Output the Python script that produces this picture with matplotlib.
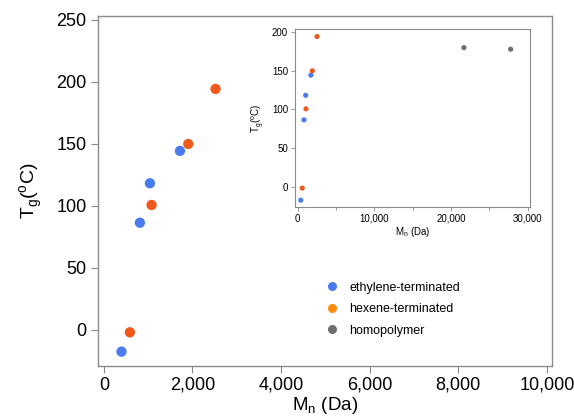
import matplotlib
matplotlib.use('Agg')
import matplotlib.pyplot as plt
from matplotlib.lines import Line2D
from matplotlib.ticker import FuncFormatter, MultipleLocator

plt.rcParams['font.family'] = ['Liberation Sans', 'DejaVu Sans']
plt.rcParams['mathtext.fontset'] = 'custom'
plt.rcParams['mathtext.rm'] = 'Liberation Sans'

# data
eth_mn = [398, 813, 1039, 1717]
eth_tg = [-17.5, 86.5, 118.3, 144.4]
hex_mn = [587, 1077, 1905, 2521]
hex_tg = [-1.9, 100.8, 150, 194.4]
homo_mn = [21700, 27800]
homo_tg = [180, 178]

legend_labels = ['ethylene-terminated', 'hexene-terminated', 'homopolymer']

blue = '#4a7cf0'
orange = '#f1581c'
orange_leg = '#ff8c12'
grey = '#6e6e6e'
spine_col = '#8a8a8a'

comma = FuncFormatter(lambda v, p: f'{int(v):,}')

fig = plt.figure(figsize=(5.74, 4.16), dpi=100)
ax = fig.add_axes([0.170, 0.121, 0.792, 0.8405])

ax.scatter(eth_mn, eth_tg, s=55, color=blue, edgecolors='none', zorder=3)
ax.scatter(hex_mn, hex_tg, s=55, color=orange, edgecolors='none', zorder=3)
ax.set_xlim(-142, 10120)
ax.set_ylim(-28.8, 253.2)
ax.set_xticks([0, 2000, 4000, 6000, 8000, 10000])
ax.set_yticks([0, 50, 100, 150, 200, 250])
ax.xaxis.set_major_formatter(comma)
ax.tick_params(direction='out', length=5, width=0.8, color=spine_col,
               labelsize=13, pad=3)
for s in ax.spines.values():
    s.set_color(spine_col)
    s.set_linewidth(1.0)
ax.set_xlabel(r'M$_\mathrm{n}$ (Da)', fontsize=13.5, labelpad=1)
ax.set_ylabel(r'T$_\mathrm{g}$($^\mathrm{o}$C)', fontsize=14, labelpad=8)

handles = [Line2D([], [], ls='none', marker='o', ms=6.5, mec='none', color=c)
           for c in [blue, orange_leg, grey]]
ax.legend(handles, legend_labels, frameon=False, fontsize=9,
          loc='upper left', bbox_to_anchor=(0.477, 0.272),
          handletextpad=0.9, labelspacing=0.75, handlelength=1.0)

# inset
ins = fig.add_axes([0.514, 0.503, 0.409, 0.427])
ins.scatter(eth_mn, eth_tg, s=14, color=blue, edgecolors='none', zorder=3)
ins.scatter(hex_mn, hex_tg, s=14, color=orange, edgecolors='none', zorder=3)
ins.scatter(homo_mn, homo_tg, s=14, color=grey, edgecolors='none', zorder=3)
ins.set_xlim(-350, 30300)
ins.set_ylim(-26, 204)
ins.set_xticks([0, 10000, 20000, 30000])
ins.xaxis.set_minor_locator(MultipleLocator(5000))
ins.set_yticks([0, 50, 100, 150, 200])
ins.xaxis.set_major_formatter(comma)
ins.tick_params(which='both', direction='out', length=3, width=0.6,
                color=spine_col, labelsize=7, pad=2)
ins.tick_params(which='minor', length=2)
for s in ins.spines.values():
    s.set_color(spine_col)
    s.set_linewidth(0.8)
ins.set_xlabel(r'M$_\mathrm{n}$ (Da)', fontsize=7, labelpad=1)
ins.set_ylabel(r'T$_\mathrm{g}$($^\mathrm{o}$C)', fontsize=7, labelpad=4)

fig.savefig('out.png', dpi=100)
